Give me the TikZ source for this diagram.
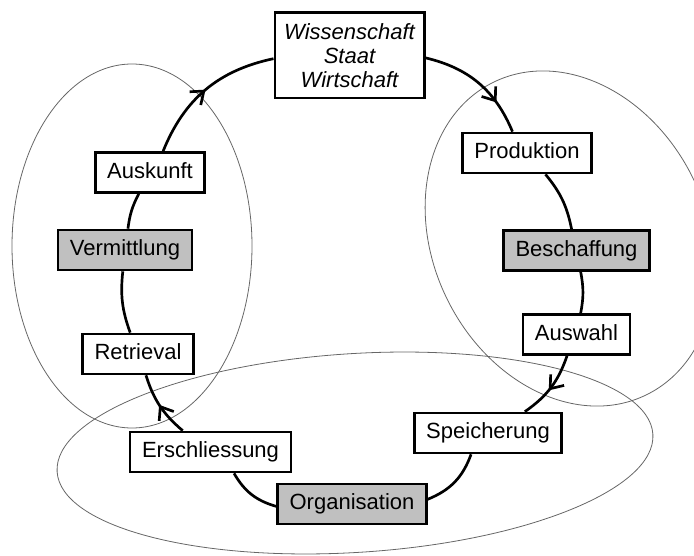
\documentclass[tikz,border=0pt]{standalone}
\usepackage{fontspec}
\setmainfont{Liberation Sans}
\usetikzlibrary{arrows.meta,decorations.markings}
\definecolor{boxgray}{RGB}{192,192,192}

\begin{document}
\begin{tikzpicture}[x=0.75pt,y=0.75pt,
	stage/.style={draw,line width=2pt,fill=white,minimum height=30pt,inner xsep=9pt,text height=12pt,text depth=3.5pt,font=\fontsize{16.5}{19}\selectfont},
	phase/.style={stage,fill=boxgray},
	source/.style={draw,line width=2pt,fill=white,align=center,minimum width=112pt,minimum height=64pt,font=\fontsize{16.5}{18}\selectfont\itshape},
	area/.style={draw=black!60,line width=0.6pt},
	flow/.style={line width=2pt},
	midarrow/.style={postaction={decorate},decoration={markings,mark=at position #1 with {\arrow{Straight Barb[length=8.5pt,width=13pt]}}}}]
	\useasboundingbox (0,0) rectangle (694,-556);
	% the three groups
	\draw[area] (132,-246) ellipse [x radius=120,y radius=182];
	\draw[area,rotate around={26:(570,-238.5)}] (570,-238.5) ellipse [x radius=137,y radius=174];
	\draw[area,rotate around={3.6:(355,-453)}] (355,-453) ellipse [x radius=298.5,y radius=99.4];
	% stations of the cycle
	\node[source] (src) at (349.5,-55.5) {Wissenschaft\\Staat\\Wirtschaft};
	\node[stage] (prod) at (527,-153) {Produktion};
	\node[phase] (besch) at (576.5,-250.5) {Beschaffung};
	\node[stage] (ausw) at (576.5,-334.5) {Auswahl};
	\node[stage] (speich) at (488,-433) {Speicherung};
	\node[phase] (org) at (352,-504) {Organisation};
	\node[stage] (ersch) at (210.5,-452) {Erschliessung};
	\node[stage] (retr) at (138,-354) {Retrieval};
	\node[phase] (verm) at (125,-250) {Vermittlung};
	\node[stage] (ausk) at (150,-172.5) {Auskunft};
	% the cycle
	\draw[flow,midarrow=0.72] (src) to[bend left=27] (prod);
	\draw[flow] (prod) to[bend left=14] (besch);
	\draw[flow] (besch) to[bend left=11] (ausw);
	\draw[flow,midarrow=0.55] (ausw) to[bend left=18] (speich);
	\draw[flow] (speich) to[bend left=24] (org);
	\draw[flow] (org) to[bend left=22] (ersch);
	\draw[flow,midarrow=0.52] (ersch) to[bend left=16] (retr);
	\draw[flow] (retr) to[bend left=13] (verm);
	\draw[flow] (verm) to[bend left=10] (ausk);
	\draw[flow,midarrow=0.5] (ausk) to[bend left=28] (src);
\end{tikzpicture}
\end{document}
